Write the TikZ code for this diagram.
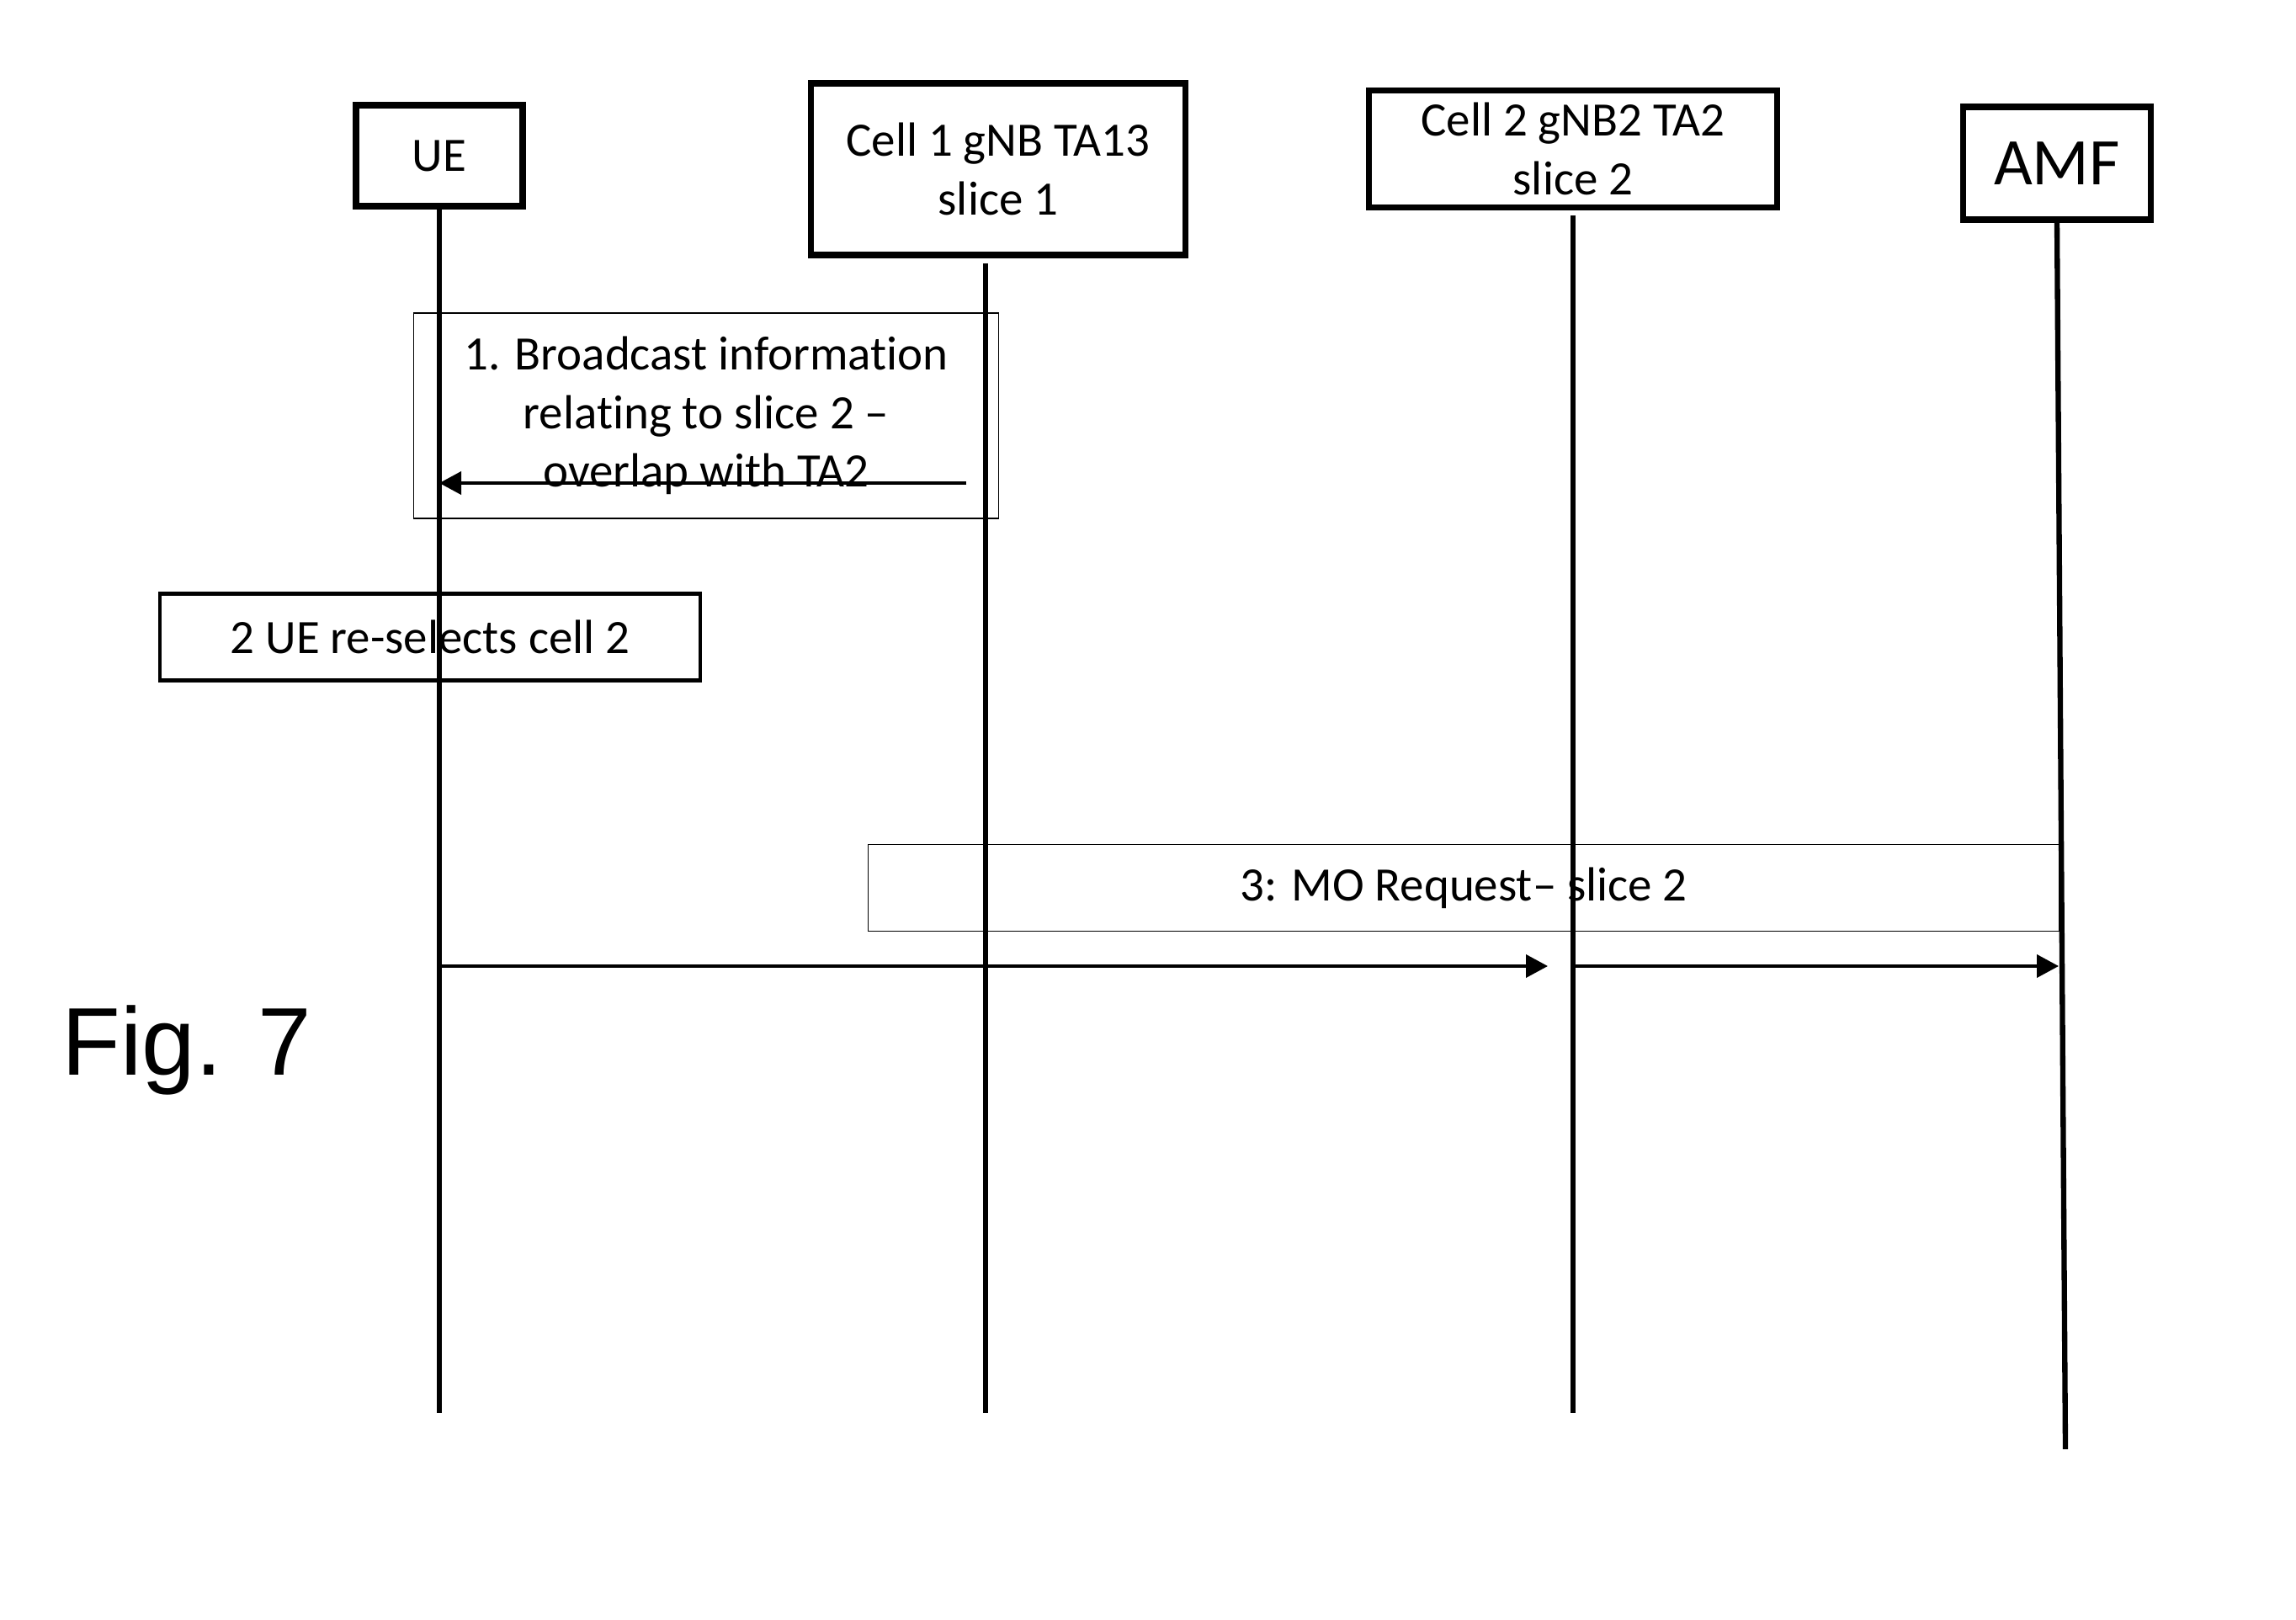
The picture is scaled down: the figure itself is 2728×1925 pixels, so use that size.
\documentclass[tikz,border=0pt]{standalone}
\usepackage{fontspec}
\setmainfont{Carlito}[Ligatures=NoCommon]
\newfontfamily\figfont{Liberation Sans}
\usetikzlibrary{positioning, arrows.meta}

\begin{document}
\begin{tikzpicture}[
  x=0.01cm, y=-0.01cm,
  font=\fontsize{16.2}{19.8}\selectfont,
  actor/.style={rectangle, draw, line width=2.1pt, align=center, inner sep=0pt},
  note/.style={rectangle, draw, line width=0.4pt, align=center, inner sep=0pt},
  action/.style={rectangle, draw, line width=1.3pt, align=center, inner sep=0pt},
  life/.style={line width=1.8pt},
  msg/.style={-{Triangle[length=0.26cm, width=0.27cm]}, line width=1.1pt}
]
  \useasboundingbox (0,0) rectangle (2728,1925);
  \node[actor, minimum width=1.98cm, minimum height=1.20cm] (ue) at (522,185) {UE};
  \node[actor, minimum width=4.45cm, minimum height=2.04cm] (c1) at (1186,201) {Cell 1 gNB TA13\\slice 1};
  \node[actor, minimum width=4.85cm, minimum height=1.39cm] (c2) at (1869,177) {Cell 2 gNB2 TA2\\slice 2};
  \node[actor, minimum width=2.23cm, minimum height=1.34cm, font=\fontsize{22.5}{27}\selectfont] (amf) at (2444,194) {AMF};
  \node[note, minimum width=6.95cm, minimum height=2.44cm] (b1) at (839,494) {1. Broadcast information\\relating to slice 2 --\\overlap with TA2};
  \node[action, minimum width=6.42cm, minimum height=1.03cm] (b2) at (511,757) {2 UE re-selects cell 2};
  \node[note, minimum width=14.14cm, minimum height=1.03cm] (b3) at (1739,1055) {3: MO Request-- slice 2};
  \node[font=\figfont\fontsize{32.5}{39}\selectfont, anchor=base west, inner sep=0pt] (fig) at (73,1277) {Fig. 7};
  \coordinate (ue-end) at (522,1679);
  \coordinate (c1-top) at (1171,313);
  \coordinate (c1-end) at (1171,1679);
  \coordinate (c2-top) at (1869,256);
  \coordinate (c2-end) at (1869,1679);
  \coordinate (amf-end) at (2454,1722);
  \draw[life] (ue.south) -- (ue-end);
  \draw[life] (c1-top) -- (c1-end);
  \draw[life] (c2-top) -- (c2-end);
  \draw[life] (amf.south) -- (amf-end);
  \coordinate (m1-from) at (1148,574);
  \coordinate (m1-to) at (522,574);
  \coordinate (m3-ue) at (522,1148);
  \coordinate (m3-c2) at (1839,1148);
  \coordinate (m3-c2b) at (1870,1148);
  \coordinate (m3-amf) at (2446,1148);
  \draw[msg] (m1-from) -- (m1-to);
  \draw[msg] (m3-ue) -- (m3-c2);
  \draw[msg] (m3-c2b) -- (m3-amf);
\end{tikzpicture}
\end{document}
